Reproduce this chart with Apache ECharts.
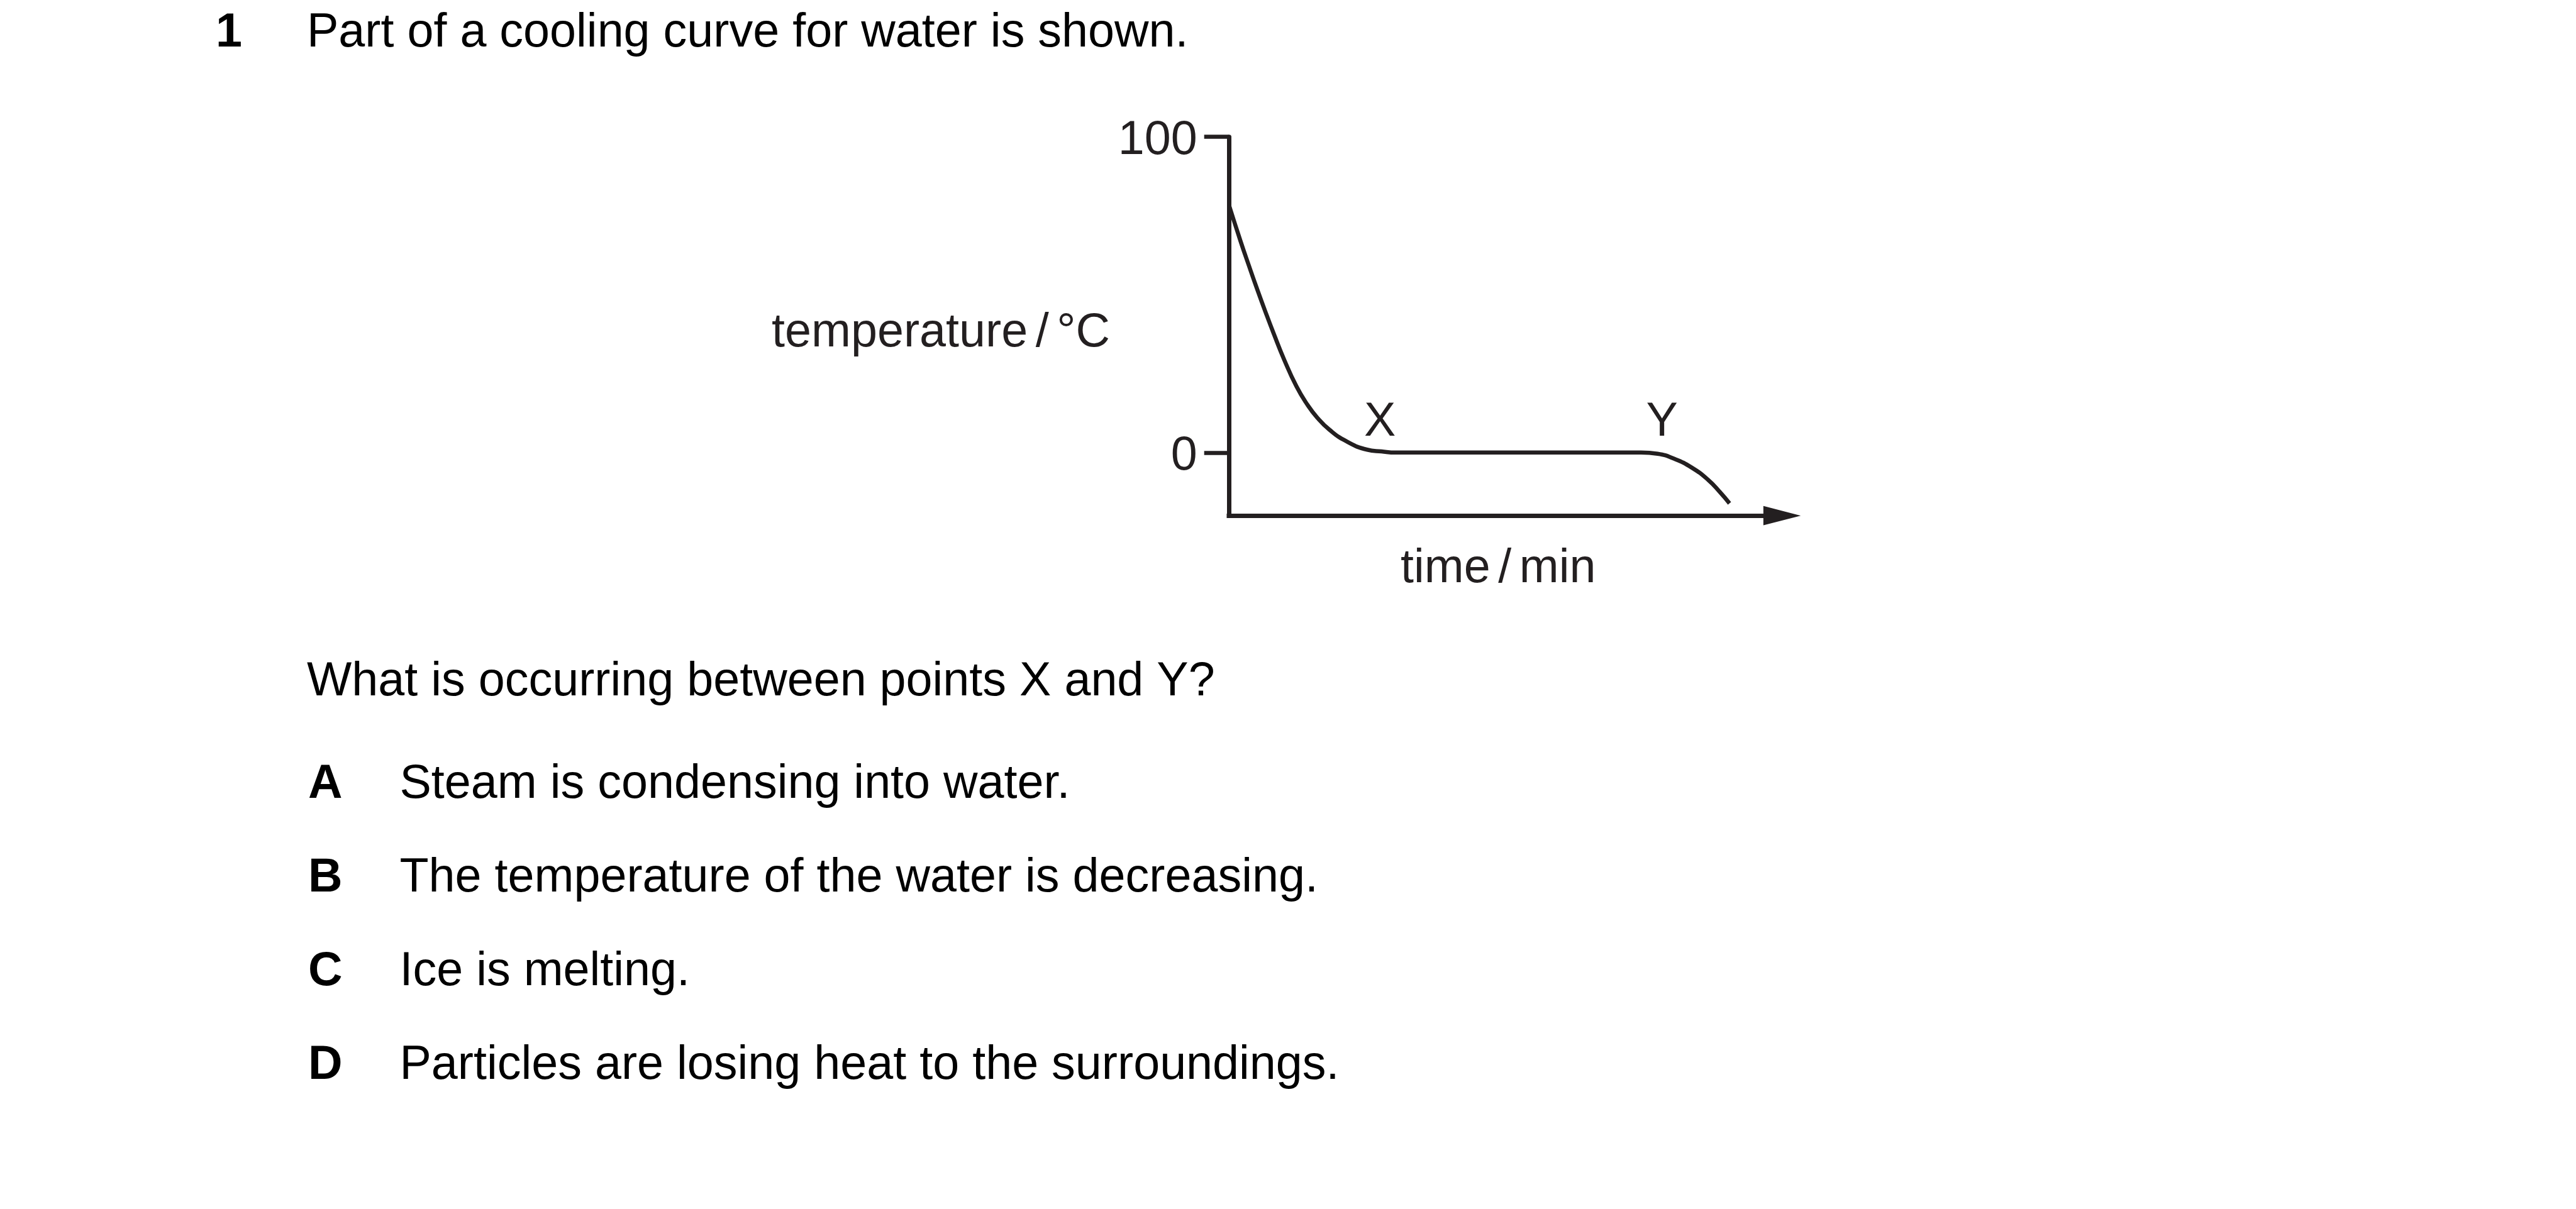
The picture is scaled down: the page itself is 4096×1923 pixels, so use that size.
<!DOCTYPE html>
<html>
<head>
<meta charset="utf-8">
<script src="https://cdn.jsdelivr.net/npm/echarts@6/dist/echarts.min.js"></script>
<style>
html,body{margin:0;padding:0;background:#fff;}
#chart{width:4096px;height:1923px;}
</style>
</head>
<body>
<div id="chart"></div>
<script>
// ---- data ----
const timeValues = [0, 2.1, 3.6, 5.1, 6.6, 8.1, 10.0, 12.2, 14.1, 16.0, 18.2, 21.2, 25.0, 27.6, 30.2, 40, 50, 60, 70, 74.5, 77.5, 80.6, 83.6, 86.6, 88.8, 90.5];
const tempValues = [78.5, 67, 59.3, 51.8, 44.6, 37.7, 29.4, 21.0, 15.4, 11.0, 7.2, 3.6, 0.9, 0.35, 0, 0, 0, 0, 0, 0, -0.4, -2.05, -4.7, -8.6, -12.6, -16.1];
const tempTickValues = [0, 100];
const pointNames = ['X', 'Y'];
const pointTimes = [27.3, 78.3];
const pointTemps = [11.1, 11.1];
const yAxisName = 'temperature\u2006/\u2006°C';
const xAxisName = 'time\u2006/\u2006min';
const questionNumber = '1';
const questionIntro = 'Part of a cooling curve for water is shown.';
const questionPrompt = 'What is occurring between points X and Y?';
const optionLetters = ['A', 'B', 'C', 'D'];
const optionTexts = [
  'Steam is condensing into water.',
  'The temperature of the water is decreasing.',
  'Ice is melting.',
  'Particles are losing heat to the surroundings.'
];

const FONT = '"Liberation Sans", Arial, Helvetica, sans-serif';
const INK = '#231f20';
const FS = 75.5;

const curve = timeValues.map((t, i) => [t, tempValues[i]]);
const points = pointNames.map((n, i) => ({ name: n, value: [pointTimes[i], pointTemps[i]] }));

const optionTops = [1248.3, 1397.3, 1546.2, 1695.2];
const graphics = [
  { type: 'text', style: { text: questionNumber, x: 343, y: 53.5, font: 'bold ' + FS + 'px ' + FONT, fill: '#000', align: 'left', verticalAlign: 'middle' } },
  { type: 'text', style: { text: questionIntro, x: 488, y: 53.5, font: FS + 'px ' + FONT, fill: '#000', align: 'left', verticalAlign: 'middle' } },
  { type: 'text', style: { text: questionPrompt, x: 488, y: 1085, font: FS + 'px ' + FONT, fill: '#000', align: 'left', verticalAlign: 'middle' } },
  { type: 'text', style: { text: yAxisName, x: 1765, y: 530, font: FS + 'px ' + FONT, fill: INK, align: 'right', verticalAlign: 'middle' } }
];
optionLetters.forEach((L, i) => {
  graphics.push({ type: 'text', style: { text: L, x: 490, y: optionTops[i], font: 'bold ' + FS + 'px ' + FONT, fill: '#000', align: 'left', verticalAlign: 'middle' } });
  graphics.push({ type: 'text', style: { text: optionTexts[i], x: 635.5, y: optionTops[i], font: FS + 'px ' + FONT, fill: '#000', align: 'left', verticalAlign: 'middle' } });
});

const chart = echarts.init(document.getElementById('chart'), null, { renderer: 'canvas' });
chart.setOption({
  animation: false,
  backgroundColor: '#fff',
  textStyle: { fontFamily: FONT },
  grid: { left: 1954, top: 217.7, width: 879.6, height: 602.5, containLabel: false, outerBoundsMode: 'none' },
  xAxis: {
    type: 'value', min: 0, max: 100,
    name: xAxisName, nameLocation: 'middle', nameGap: 47, nameMoveOverlap: false,
    nameTextStyle: { fontSize: FS, color: INK, fontFamily: FONT, verticalAlign: 'top', padding: [0, 23, 0, 0] },
    axisLine: { onZero: false, symbol: ['none', 'path://M15.5,0 L31,60 L0,60 Z'], symbolSize: [30.7, 59.5],
      lineStyle: { color: INK, width: 7, cap: 'square' } },
    axisTick: { show: false }, axisLabel: { show: false }, splitLine: { show: false }
  },
  yAxis: {
    type: 'value', min: -20, max: 100, interval: 20,
    axisLine: { show: true, lineStyle: { color: INK, width: 7 } },
    axisTick: { show: true, length: 39.3, customValues: tempTickValues, lineStyle: { color: INK, width: 6.5 } },
    axisLabel: { show: true, customValues: tempTickValues, margin: 50.3, fontSize: FS, color: INK, fontFamily: FONT, verticalAlign: 'top', lineHeight: 12 },
    splitLine: { show: false }
  },
  series: [
    { type: 'line', data: curve, smooth: 0.5, showSymbol: false, symbol: 'none',
      lineStyle: { color: INK, width: 6.5 }, z: 5 },
    { type: 'scatter', data: points, symbolSize: 0, itemStyle: { opacity: 1 },
      label: { show: true, position: 'inside', formatter: '{b}', offset: [0, 8], fontSize: FS, color: INK, opacity: 1, fontFamily: FONT } }
  ],
  graphic: graphics
});
</script>
</body>
</html>
